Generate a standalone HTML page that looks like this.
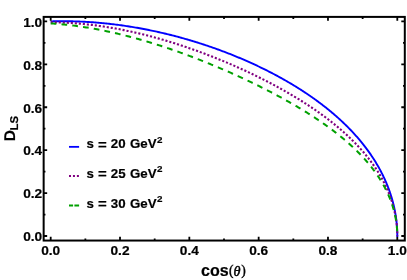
<!DOCTYPE html><html><head><meta charset="utf-8"><style>html,body{margin:0;padding:0;background:#fff}svg{display:block}text{font-family:"Liberation Sans",sans-serif;font-weight:bold;fill:#000;stroke:#000;stroke-width:0.2px;stroke-linejoin:round}.s{font-family:"Liberation Serif",serif;font-weight:normal;stroke-width:0.4px}.th{font-style:italic;stroke-width:0.5px}</style></head><body>
<svg width="407" height="280" viewBox="0 0 407 280">
<rect width="407" height="280" fill="#fff"/>
<g fill="none" stroke-linejoin="round"><path d="M50.70 21.40 L52.06 21.36 L53.43 21.32 L54.79 21.29 L56.16 21.27 L57.52 21.25 L58.89 21.23 L60.25 21.22 L61.61 21.21 L62.98 21.21 L64.34 21.21 L65.70 21.21 L67.07 21.23 L68.43 21.24 L69.79 21.26 L71.16 21.29 L72.52 21.32 L73.88 21.35 L75.24 21.39 L76.60 21.43 L77.96 21.48 L79.32 21.53 L80.68 21.59 L82.04 21.65 L83.40 21.71 L84.76 21.78 L86.12 21.86 L87.47 21.94 L88.83 22.02 L90.18 22.11 L91.54 22.20 L92.89 22.30 L94.25 22.40 L95.60 22.50 L96.95 22.61 L98.31 22.72 L99.66 22.84 L101.01 22.96 L102.36 23.09 L103.71 23.22 L105.05 23.36 L106.40 23.49 L107.75 23.64 L109.09 23.78 L110.44 23.94 L111.78 24.09 L113.12 24.25 L114.47 24.41 L115.81 24.58 L117.15 24.75 L118.49 24.93 L119.82 25.11 L121.16 25.29 L122.50 25.48 L123.83 25.67 L125.16 25.87 L126.49 26.07 L127.83 26.27 L129.16 26.48 L130.48 26.69 L131.81 26.90 L133.14 27.12 L134.46 27.35 L135.79 27.57 L137.11 27.80 L138.43 28.04 L139.75 28.27 L141.07 28.51 L142.38 28.76 L143.70 29.01 L145.01 29.26 L146.32 29.52 L147.63 29.78 L148.94 30.04 L150.25 30.31 L151.56 30.58 L152.86 30.85 L154.17 31.13 L155.47 31.41 L156.77 31.69 L158.06 31.98 L159.36 32.27 L160.66 32.57 L161.95 32.86 L163.24 33.17 L164.53 33.47 L165.82 33.78 L167.10 34.09 L168.39 34.40 L169.67 34.72 L170.95 35.04 L172.23 35.37 L173.51 35.70 L174.78 36.03 L176.06 36.36 L177.33 36.70 L178.60 37.04 L179.86 37.38 L181.13 37.73 L182.39 38.08 L183.65 38.43 L184.91 38.79 L186.17 39.15 L187.42 39.51 L188.68 39.88 L189.93 40.25 L191.18 40.62 L192.42 40.99 L193.67 41.37 L194.91 41.75 L196.15 42.13 L197.39 42.52 L198.62 42.91 L199.85 43.30 L201.08 43.69 L202.31 44.09 L203.54 44.49 L204.76 44.89 L205.98 45.30 L207.20 45.71 L208.42 46.12 L209.63 46.54 L210.84 46.95 L212.05 47.37 L213.26 47.79 L214.46 48.22 L215.66 48.65 L216.86 49.08 L218.06 49.51 L219.25 49.95 L220.44 50.39 L221.63 50.83 L222.82 51.27 L224.00 51.72 L225.18 52.17 L226.36 52.62 L227.53 53.07 L228.71 53.53 L229.87 53.99 L231.04 54.45 L232.21 54.91 L233.37 55.38 L234.52 55.85 L235.68 56.32 L236.83 56.79 L237.98 57.27 L239.13 57.75 L240.27 58.23 L241.41 58.71 L242.55 59.20 L243.69 59.68 L244.82 60.17 L245.95 60.67 L247.07 61.16 L248.20 61.66 L249.32 62.16 L250.43 62.66 L251.55 63.17 L252.66 63.67 L253.76 64.18 L254.87 64.69 L255.97 65.21 L257.07 65.72 L258.16 66.24 L259.25 66.76 L260.34 67.28 L261.43 67.81 L262.51 68.33 L263.59 68.86 L264.66 69.40 L265.73 69.93 L266.80 70.46 L267.87 71.00 L268.93 71.54 L269.99 72.08 L271.04 72.63 L272.09 73.17 L273.14 73.72 L274.19 74.27 L275.23 74.82 L276.27 75.38 L277.30 75.94 L278.33 76.50 L279.36 77.06 L280.38 77.62 L281.40 78.18 L282.42 78.75 L283.43 79.32 L284.44 79.89 L285.45 80.46 L286.45 81.04 L287.45 81.62 L288.44 82.20 L289.43 82.78 L290.42 83.36 L291.40 83.94 L292.38 84.53 L293.36 85.12 L294.33 85.71 L295.30 86.30 L296.27 86.90 L297.23 87.50 L298.18 88.10 L299.14 88.70 L300.09 89.30 L301.03 89.90 L301.97 90.51 L302.91 91.12 L303.85 91.73 L304.78 92.34 L305.70 92.96 L306.62 93.57 L307.54 94.19 L308.46 94.81 L309.37 95.43 L310.27 96.06 L311.18 96.68 L312.07 97.31 L312.97 97.94 L313.86 98.57 L314.74 99.20 L315.63 99.84 L316.50 100.47 L317.38 101.11 L318.25 101.75 L319.11 102.39 L319.97 103.04 L320.83 103.68 L321.68 104.33 L322.53 104.98 L323.38 105.63 L324.22 106.29 L325.05 106.94 L325.88 107.60 L326.71 108.26 L327.53 108.92 L328.35 109.58 L329.17 110.24 L329.98 110.91 L330.78 111.58 L331.59 112.24 L332.38 112.92 L333.18 113.59 L333.96 114.26 L334.75 114.94 L335.53 115.62 L336.30 116.30 L337.07 116.98 L337.84 117.66 L338.60 118.35 L339.36 119.03 L340.11 119.72 L340.86 120.41 L341.61 121.10 L342.35 121.79 L343.08 122.49 L343.81 123.19 L344.54 123.88 L345.26 124.58 L345.98 125.29 L346.69 125.99 L347.40 126.70 L348.10 127.40 L348.80 128.11 L349.49 128.82 L350.18 129.53 L350.86 130.24 L351.54 130.96 L352.22 131.68 L352.89 132.39 L353.56 133.11 L354.22 133.84 L354.87 134.56 L355.53 135.28 L356.17 136.01 L356.82 136.74 L357.45 137.47 L358.09 138.20 L358.71 138.93 L359.34 139.66 L359.96 140.40 L360.57 141.13 L361.18 141.87 L361.78 142.61 L362.38 143.35 L362.98 144.10 L363.57 144.84 L364.15 145.59 L364.73 146.34 L365.31 147.08 L365.88 147.83 L366.44 148.59 L367.00 149.34 L367.56 150.09 L368.11 150.85 L368.65 151.61 L369.19 152.37 L369.73 153.13 L370.26 153.89 L370.79 154.65 L371.31 155.42 L371.82 156.18 L372.33 156.95 L372.84 157.72 L373.34 158.49 L373.84 159.26 L374.33 160.03 L374.81 160.81 L375.29 161.58 L375.77 162.36 L376.24 163.14 L376.71 163.92 L377.17 164.70 L377.62 165.48 L378.07 166.26 L378.52 167.04 L378.96 167.83 L379.40 168.62 L379.83 169.40 L380.25 170.19 L380.67 170.98 L381.09 171.77 L381.50 172.57 L381.90 173.36 L382.30 174.16 L382.70 174.95 L383.08 175.75 L383.47 176.55 L383.85 177.35 L384.22 178.15 L384.59 178.95 L384.95 179.75 L385.31 180.55 L385.67 181.36 L386.01 182.16 L386.36 182.97 L386.69 183.78 L387.03 184.58 L387.35 185.39 L387.68 186.20 L387.99 187.02 L388.30 187.83 L388.61 188.64 L388.91 189.45 L389.21 190.27 L389.50 191.09 L389.78 191.90 L390.06 192.72 L390.34 193.54 L390.61 194.36 L390.87 195.18 L391.13 196.00 L391.38 196.82 L391.63 197.64 L391.88 198.46 L392.11 199.29 L392.35 200.11 L392.57 200.94 L392.79 201.76 L393.01 202.59 L393.22 203.41 L393.43 204.24 L393.63 205.07 L393.82 205.90 L394.01 206.73 L394.20 207.56 L394.38 208.39 L394.55 209.22 L394.72 210.05 L394.89 210.88 L395.04 211.72 L395.20 212.55 L395.34 213.38 L395.49 214.22 L395.62 215.05 L395.75 215.88 L395.88 216.72 L396.00 217.56 L396.12 218.39 L396.23 219.23 L396.33 220.06 L396.43 220.90 L396.52 221.74 L396.61 222.58 L396.70 223.41 L396.77 224.25 L396.85 225.09 L396.91 225.93 L396.98 226.77 L397.03 227.61 L397.08 228.44 L397.13 229.28 L397.17 230.12 L397.20 230.96 L397.23 231.80 L397.26 232.64 L397.28 233.48 L397.29 234.32 L397.30 235.16 L397.30 236.00 L397.30 237.00" stroke="#0000ff" stroke-width="1.9"/>
<path d="M50.70 22.36 L52.06 22.36 L53.43 22.38 L54.79 22.39 L56.16 22.42 L57.52 22.45 L58.89 22.48 L60.25 22.52 L61.61 22.57 L62.98 22.62 L64.34 22.67 L65.70 22.74 L67.07 22.80 L68.43 22.88 L69.79 22.95 L71.16 23.04 L72.52 23.13 L73.88 23.22 L75.24 23.32 L76.60 23.42 L77.96 23.53 L79.32 23.65 L80.68 23.77 L82.04 23.89 L83.40 24.02 L84.76 24.16 L86.12 24.30 L87.47 24.44 L88.83 24.59 L90.18 24.75 L91.54 24.90 L92.89 25.07 L94.25 25.24 L95.60 25.41 L96.95 25.59 L98.31 25.77 L99.66 25.96 L101.01 26.16 L102.36 26.35 L103.71 26.56 L105.05 26.76 L106.40 26.97 L107.75 27.19 L109.09 27.41 L110.44 27.63 L111.78 27.86 L113.12 28.10 L114.47 28.33 L115.81 28.58 L117.15 28.82 L118.49 29.07 L119.82 29.33 L121.16 29.59 L122.50 29.85 L123.83 30.12 L125.16 30.39 L126.49 30.66 L127.83 30.94 L129.16 31.22 L130.48 31.51 L131.81 31.80 L133.14 32.10 L134.46 32.39 L135.79 32.70 L137.11 33.00 L138.43 33.31 L139.75 33.63 L141.07 33.94 L142.38 34.26 L143.70 34.59 L145.01 34.92 L146.32 35.25 L147.63 35.58 L148.94 35.92 L150.25 36.26 L151.56 36.61 L152.86 36.96 L154.17 37.31 L155.47 37.66 L156.77 38.02 L158.06 38.38 L159.36 38.75 L160.66 39.12 L161.95 39.49 L163.24 39.86 L164.53 40.24 L165.82 40.62 L167.10 41.00 L168.39 41.39 L169.67 41.78 L170.95 42.17 L172.23 42.57 L173.51 42.97 L174.78 43.37 L176.06 43.77 L177.33 44.18 L178.60 44.59 L179.86 45.00 L181.13 45.41 L182.39 45.83 L183.65 46.25 L184.91 46.67 L186.17 47.10 L187.42 47.52 L188.68 47.95 L189.93 48.39 L191.18 48.82 L192.42 49.26 L193.67 49.70 L194.91 50.14 L196.15 50.58 L197.39 51.03 L198.62 51.48 L199.85 51.93 L201.08 52.38 L202.31 52.84 L203.54 53.30 L204.76 53.76 L205.98 54.22 L207.20 54.68 L208.42 55.15 L209.63 55.62 L210.84 56.09 L212.05 56.56 L213.26 57.04 L214.46 57.51 L215.66 57.99 L216.86 58.47 L218.06 58.96 L219.25 59.44 L220.44 59.93 L221.63 60.41 L222.82 60.90 L224.00 61.40 L225.18 61.89 L226.36 62.38 L227.53 62.88 L228.71 63.38 L229.87 63.88 L231.04 64.38 L232.21 64.89 L233.37 65.39 L234.52 65.90 L235.68 66.41 L236.83 66.92 L237.98 67.43 L239.13 67.94 L240.27 68.46 L241.41 68.98 L242.55 69.50 L243.69 70.01 L244.82 70.54 L245.95 71.06 L247.07 71.58 L248.20 72.11 L249.32 72.64 L250.43 73.17 L251.55 73.70 L252.66 74.23 L253.76 74.76 L254.87 75.29 L255.97 75.83 L257.07 76.37 L258.16 76.91 L259.25 77.45 L260.34 77.99 L261.43 78.53 L262.51 79.07 L263.59 79.62 L264.66 80.17 L265.73 80.71 L266.80 81.26 L267.87 81.81 L268.93 82.36 L269.99 82.92 L271.04 83.47 L272.09 84.03 L273.14 84.58 L274.19 85.14 L275.23 85.70 L276.27 86.26 L277.30 86.82 L278.33 87.39 L279.36 87.95 L280.38 88.52 L281.40 89.08 L282.42 89.65 L283.43 90.22 L284.44 90.79 L285.45 91.36 L286.45 91.93 L287.45 92.51 L288.44 93.08 L289.43 93.66 L290.42 94.23 L291.40 94.81 L292.38 95.39 L293.36 95.97 L294.33 96.55 L295.30 97.14 L296.27 97.72 L297.23 98.31 L298.18 98.89 L299.14 99.48 L300.09 100.07 L301.03 100.66 L301.97 101.25 L302.91 101.84 L303.85 102.43 L304.78 103.03 L305.70 103.62 L306.62 104.22 L307.54 104.82 L308.46 105.42 L309.37 106.02 L310.27 106.62 L311.18 107.22 L312.07 107.82 L312.97 108.43 L313.86 109.04 L314.74 109.64 L315.63 110.25 L316.50 110.86 L317.38 111.47 L318.25 112.08 L319.11 112.69 L319.97 113.31 L320.83 113.92 L321.68 114.54 L322.53 115.16 L323.38 115.78 L324.22 116.39 L325.05 117.02 L325.88 117.64 L326.71 118.26 L327.53 118.89 L328.35 119.51 L329.17 120.14 L329.98 120.77 L330.78 121.39 L331.59 122.02 L332.38 122.66 L333.18 123.29 L333.96 123.92 L334.75 124.56 L335.53 125.19 L336.30 125.83 L337.07 126.47 L337.84 127.11 L338.60 127.75 L339.36 128.39 L340.11 129.03 L340.86 129.68 L341.61 130.32 L342.35 130.97 L343.08 131.62 L343.81 132.27 L344.54 132.92 L345.26 133.57 L345.98 134.22 L346.69 134.88 L347.40 135.53 L348.10 136.19 L348.80 136.85 L349.49 137.51 L350.18 138.17 L350.86 138.83 L351.54 139.49 L352.22 140.16 L352.89 140.82 L353.56 141.49 L354.22 142.15 L354.87 142.82 L355.53 143.49 L356.17 144.16 L356.82 144.84 L357.45 145.51 L358.09 146.18 L358.71 146.86 L359.34 147.54 L359.96 148.22 L360.57 148.90 L361.18 149.58 L361.78 150.26 L362.38 150.94 L362.98 151.63 L363.57 152.31 L364.15 153.00 L364.73 153.69 L365.31 154.38 L365.88 155.07 L366.44 155.76 L367.00 156.45 L367.56 157.15 L368.11 157.84 L368.65 158.54 L369.19 159.24 L369.73 159.93 L370.26 160.64 L370.79 161.34 L371.31 162.04 L371.82 162.74 L372.33 163.45 L372.84 164.15 L373.34 164.86 L373.84 165.57 L374.33 166.28 L374.81 166.99 L375.29 167.70 L375.77 168.41 L376.24 169.13 L376.71 169.84 L377.17 170.56 L377.62 171.27 L378.07 171.99 L378.52 172.71 L378.96 173.43 L379.40 174.15 L379.83 174.88 L380.25 175.60 L380.67 176.33 L381.09 177.05 L381.50 177.78 L381.90 178.51 L382.30 179.23 L382.70 179.96 L383.08 180.70 L383.47 181.43 L383.85 182.16 L384.22 182.89 L384.59 183.63 L384.95 184.36 L385.31 185.10 L385.67 185.84 L386.01 186.58 L386.36 187.32 L386.69 188.06 L387.03 188.80 L387.35 189.54 L387.68 190.28 L387.99 191.03 L388.30 191.77 L388.61 192.52 L388.91 193.27 L389.21 194.01 L389.50 194.76 L389.78 195.51 L390.06 196.26 L390.34 197.01 L390.61 197.76 L390.87 198.51 L391.13 199.27 L391.38 200.02 L391.63 200.78 L391.88 201.53 L392.11 202.29 L392.35 203.04 L392.57 203.80 L392.79 204.56 L393.01 205.32 L393.22 206.07 L393.43 206.83 L393.63 207.59 L393.82 208.35 L394.01 209.12 L394.20 209.88 L394.38 210.64 L394.55 211.40 L394.72 212.17 L394.89 212.93 L395.04 213.69 L395.20 214.46 L395.34 215.22 L395.49 215.99 L395.62 216.76 L395.75 217.52 L395.88 218.29 L396.00 219.06 L396.12 219.83 L396.23 220.59 L396.33 221.36 L396.43 222.13 L396.52 222.90 L396.61 223.67 L396.70 224.44 L396.77 225.21 L396.85 225.98 L396.91 226.75 L396.98 227.52 L397.03 228.29 L397.08 229.06 L397.13 229.83 L397.17 230.60 L397.20 231.37 L397.23 232.14 L397.26 232.91 L397.28 233.69 L397.29 234.46 L397.30 235.23 L397.30 236.00" stroke="#800080" stroke-width="2.1" stroke-dasharray="2.1 1.92"/>
<path d="M50.70 23.38 L52.06 23.47 L53.43 23.56 L54.79 23.66 L56.16 23.77 L57.52 23.88 L58.89 24.00 L60.25 24.12 L61.61 24.25 L62.98 24.38 L64.34 24.52 L65.70 24.66 L67.07 24.81 L68.43 24.96 L69.79 25.12 L71.16 25.28 L72.52 25.45 L73.88 25.62 L75.24 25.80 L76.60 25.98 L77.96 26.17 L79.32 26.36 L80.68 26.56 L82.04 26.76 L83.40 26.97 L84.76 27.18 L86.12 27.39 L87.47 27.61 L88.83 27.84 L90.18 28.07 L91.54 28.30 L92.89 28.54 L94.25 28.79 L95.60 29.03 L96.95 29.29 L98.31 29.54 L99.66 29.80 L101.01 30.07 L102.36 30.34 L103.71 30.61 L105.05 30.89 L106.40 31.17 L107.75 31.46 L109.09 31.75 L110.44 32.04 L111.78 32.34 L113.12 32.64 L114.47 32.95 L115.81 33.26 L117.15 33.57 L118.49 33.89 L119.82 34.21 L121.16 34.53 L122.50 34.86 L123.83 35.19 L125.16 35.53 L126.49 35.87 L127.83 36.21 L129.16 36.56 L130.48 36.91 L131.81 37.26 L133.14 37.61 L134.46 37.97 L135.79 38.34 L137.11 38.70 L138.43 39.07 L139.75 39.44 L141.07 39.82 L142.38 40.20 L143.70 40.58 L145.01 40.97 L146.32 41.35 L147.63 41.74 L148.94 42.14 L150.25 42.53 L151.56 42.93 L152.86 43.34 L154.17 43.74 L155.47 44.15 L156.77 44.56 L158.06 44.97 L159.36 45.39 L160.66 45.81 L161.95 46.23 L163.24 46.65 L164.53 47.08 L165.82 47.50 L167.10 47.94 L168.39 48.37 L169.67 48.80 L170.95 49.24 L172.23 49.68 L173.51 50.12 L174.78 50.57 L176.06 51.02 L177.33 51.46 L178.60 51.92 L179.86 52.37 L181.13 52.82 L182.39 53.28 L183.65 53.74 L184.91 54.20 L186.17 54.67 L187.42 55.13 L188.68 55.60 L189.93 56.07 L191.18 56.54 L192.42 57.01 L193.67 57.49 L194.91 57.96 L196.15 58.44 L197.39 58.92 L198.62 59.40 L199.85 59.88 L201.08 60.37 L202.31 60.86 L203.54 61.34 L204.76 61.83 L205.98 62.32 L207.20 62.82 L208.42 63.31 L209.63 63.80 L210.84 64.30 L212.05 64.80 L213.26 65.30 L214.46 65.80 L215.66 66.30 L216.86 66.81 L218.06 67.31 L219.25 67.82 L220.44 68.32 L221.63 68.83 L222.82 69.34 L224.00 69.85 L225.18 70.37 L226.36 70.88 L227.53 71.40 L228.71 71.91 L229.87 72.43 L231.04 72.95 L232.21 73.46 L233.37 73.98 L234.52 74.51 L235.68 75.03 L236.83 75.55 L237.98 76.08 L239.13 76.60 L240.27 77.13 L241.41 77.65 L242.55 78.18 L243.69 78.71 L244.82 79.24 L245.95 79.77 L247.07 80.30 L248.20 80.84 L249.32 81.37 L250.43 81.90 L251.55 82.44 L252.66 82.98 L253.76 83.51 L254.87 84.05 L255.97 84.59 L257.07 85.13 L258.16 85.67 L259.25 86.21 L260.34 86.75 L261.43 87.29 L262.51 87.84 L263.59 88.38 L264.66 88.93 L265.73 89.47 L266.80 90.02 L267.87 90.57 L268.93 91.11 L269.99 91.66 L271.04 92.21 L272.09 92.76 L273.14 93.31 L274.19 93.86 L275.23 94.41 L276.27 94.97 L277.30 95.52 L278.33 96.08 L279.36 96.63 L280.38 97.19 L281.40 97.74 L282.42 98.30 L283.43 98.86 L284.44 99.41 L285.45 99.97 L286.45 100.53 L287.45 101.09 L288.44 101.65 L289.43 102.22 L290.42 102.78 L291.40 103.34 L292.38 103.91 L293.36 104.47 L294.33 105.04 L295.30 105.60 L296.27 106.17 L297.23 106.73 L298.18 107.30 L299.14 107.87 L300.09 108.44 L301.03 109.01 L301.97 109.58 L302.91 110.15 L303.85 110.72 L304.78 111.30 L305.70 111.87 L306.62 112.45 L307.54 113.02 L308.46 113.60 L309.37 114.17 L310.27 114.75 L311.18 115.33 L312.07 115.91 L312.97 116.49 L313.86 117.07 L314.74 117.65 L315.63 118.23 L316.50 118.81 L317.38 119.39 L318.25 119.98 L319.11 120.56 L319.97 121.15 L320.83 121.73 L321.68 122.32 L322.53 122.91 L323.38 123.50 L324.22 124.09 L325.05 124.68 L325.88 125.27 L326.71 125.86 L327.53 126.45 L328.35 127.05 L329.17 127.64 L329.98 128.24 L330.78 128.83 L331.59 129.43 L332.38 130.03 L333.18 130.63 L333.96 131.23 L334.75 131.83 L335.53 132.43 L336.30 133.03 L337.07 133.63 L337.84 134.24 L338.60 134.84 L339.36 135.45 L340.11 136.05 L340.86 136.66 L341.61 137.27 L342.35 137.88 L343.08 138.49 L343.81 139.10 L344.54 139.71 L345.26 140.33 L345.98 140.94 L346.69 141.56 L347.40 142.17 L348.10 142.79 L348.80 143.41 L349.49 144.03 L350.18 144.65 L350.86 145.27 L351.54 145.89 L352.22 146.51 L352.89 147.14 L353.56 147.76 L354.22 148.39 L354.87 149.02 L355.53 149.64 L356.17 150.27 L356.82 150.90 L357.45 151.54 L358.09 152.17 L358.71 152.80 L359.34 153.43 L359.96 154.07 L360.57 154.71 L361.18 155.34 L361.78 155.98 L362.38 156.62 L362.98 157.26 L363.57 157.90 L364.15 158.55 L364.73 159.19 L365.31 159.83 L365.88 160.48 L366.44 161.13 L367.00 161.77 L367.56 162.42 L368.11 163.07 L368.65 163.72 L369.19 164.37 L369.73 165.03 L370.26 165.68 L370.79 166.34 L371.31 166.99 L371.82 167.65 L372.33 168.31 L372.84 168.97 L373.34 169.63 L373.84 170.29 L374.33 170.95 L374.81 171.61 L375.29 172.28 L375.77 172.94 L376.24 173.61 L376.71 174.28 L377.17 174.94 L377.62 175.61 L378.07 176.28 L378.52 176.95 L378.96 177.63 L379.40 178.30 L379.83 178.97 L380.25 179.65 L380.67 180.33 L381.09 181.00 L381.50 181.68 L381.90 182.36 L382.30 183.04 L382.70 183.72 L383.08 184.40 L383.47 185.08 L383.85 185.77 L384.22 186.45 L384.59 187.14 L384.95 187.82 L385.31 188.51 L385.67 189.20 L386.01 189.89 L386.36 190.58 L386.69 191.27 L387.03 191.96 L387.35 192.65 L387.68 193.35 L387.99 194.04 L388.30 194.73 L388.61 195.43 L388.91 196.13 L389.21 196.82 L389.50 197.52 L389.78 198.22 L390.06 198.92 L390.34 199.62 L390.61 200.32 L390.87 201.02 L391.13 201.72 L391.38 202.43 L391.63 203.13 L391.88 203.84 L392.11 204.54 L392.35 205.25 L392.57 205.95 L392.79 206.66 L393.01 207.37 L393.22 208.07 L393.43 208.78 L393.63 209.49 L393.82 210.20 L394.01 210.91 L394.20 211.62 L394.38 212.33 L394.55 213.05 L394.72 213.76 L394.89 214.47 L395.04 215.18 L395.20 215.90 L395.34 216.61 L395.49 217.33 L395.62 218.04 L395.75 218.76 L395.88 219.47 L396.00 220.19 L396.12 220.91 L396.23 221.62 L396.33 222.34 L396.43 223.06 L396.52 223.77 L396.61 224.49 L396.70 225.21 L396.77 225.93 L396.85 226.65 L396.91 227.37 L396.98 228.08 L397.03 228.80 L397.08 229.52 L397.13 230.24 L397.17 230.96 L397.20 231.68 L397.23 232.40 L397.26 233.12 L397.28 233.84 L397.29 234.56 L397.30 235.28 L397.30 236.00" stroke="#00a000" stroke-width="2.0" stroke-dasharray="5.7 5.15"/></g>
<path d="M50.70 240.55 v-3.9 M50.70 16.9 v3.9 M43.65 236.00 h3.51 M404.8 236.00 h-3.51 M85.36 240.55 v-2.0 M85.36 16.9 v2.0 M43.65 214.54 h1.80 M404.8 214.54 h-1.80 M120.02 240.55 v-3.9 M120.02 16.9 v3.9 M43.65 193.08 h3.51 M404.8 193.08 h-3.51 M154.68 240.55 v-2.0 M154.68 16.9 v2.0 M43.65 171.62 h1.80 M404.8 171.62 h-1.80 M189.34 240.55 v-3.9 M189.34 16.9 v3.9 M43.65 150.16 h3.51 M404.8 150.16 h-3.51 M224.00 240.55 v-2.0 M224.00 16.9 v2.0 M43.65 128.70 h1.80 M404.8 128.70 h-1.80 M258.66 240.55 v-3.9 M258.66 16.9 v3.9 M43.65 107.24 h3.51 M404.8 107.24 h-3.51 M293.32 240.55 v-2.0 M293.32 16.9 v2.0 M43.65 85.78 h1.80 M404.8 85.78 h-1.80 M327.98 240.55 v-3.9 M327.98 16.9 v3.9 M43.65 64.32 h3.51 M404.8 64.32 h-3.51 M362.64 240.55 v-2.0 M362.64 16.9 v2.0 M43.65 42.86 h1.80 M404.8 42.86 h-1.80 M397.30 240.55 v-3.9 M397.30 16.9 v3.9 M43.65 21.40 h3.51 M404.8 21.40 h-3.51" stroke="#000" stroke-width="1.8" fill="none"/>
<rect x="43.65" y="16.9" width="361.15000000000003" height="223.65" fill="none" stroke="#000" stroke-width="2.0"/>
<g style="filter:grayscale(1)">
<text x="50.70" y="254.7" font-size="13.7" text-anchor="middle">0.0</text>
<text x="42.2" y="241.30" font-size="13.7" text-anchor="end">0.0</text>
<text x="120.02" y="254.7" font-size="13.7" text-anchor="middle">0.2</text>
<text x="42.2" y="198.38" font-size="13.7" text-anchor="end">0.2</text>
<text x="189.34" y="254.7" font-size="13.7" text-anchor="middle">0.4</text>
<text x="42.2" y="155.46" font-size="13.7" text-anchor="end">0.4</text>
<text x="258.66" y="254.7" font-size="13.7" text-anchor="middle">0.6</text>
<text x="42.2" y="112.54" font-size="13.7" text-anchor="end">0.6</text>
<text x="327.98" y="254.7" font-size="13.7" text-anchor="middle">0.8</text>
<text x="42.2" y="69.62" font-size="13.7" text-anchor="end">0.8</text>
<text x="397.30" y="254.7" font-size="13.7" text-anchor="middle">1.0</text>
<text x="42.2" y="26.70" font-size="13.7" text-anchor="end">1.0</text>
<text y="276.0" font-size="16"><tspan x="201.0">cos</tspan><tspan class="s" font-size="13.6"><tspan x="229.05" y="275.3">(</tspan><tspan class="th" x="233.55" y="276.0" font-size="14.2">θ</tspan><tspan x="241.3" y="275.3">)</tspan></tspan></text>
<g transform="translate(15.0 141.3) rotate(-90.1)"><text x="0" y="0" font-size="15.5">D</text><text x="10.9" y="2.95" font-size="11.3">LS</text></g>
<text y="148.2" font-size="13.3"><tspan x="86.5">s</tspan><tspan x="110.8">20</tspan><tspan x="129.9">GeV</tspan><tspan x="157.1" font-size="9.8" dy="-5.4">2</tspan></text>
<text transform="translate(98.0 148.70) scale(1.15 1)" font-size="13">=</text>
<text y="177.8" font-size="13.3"><tspan x="86.5">s</tspan><tspan x="110.8">25</tspan><tspan x="129.9">GeV</tspan><tspan x="157.1" font-size="9.8" dy="-5.4">2</tspan></text>
<text transform="translate(98.0 178.30) scale(1.15 1)" font-size="13">=</text>
<text y="207.5" font-size="13.3"><tspan x="86.5">s</tspan><tspan x="110.8">30</tspan><tspan x="129.9">GeV</tspan><tspan x="157.1" font-size="9.8" dy="-5.4">2</tspan></text>
<text transform="translate(98.0 208.00) scale(1.15 1)" font-size="13">=</text>
</g>
<path d="M69 146.85 H79.1" stroke="#0000ff" stroke-width="1.8" fill="none"/>
<path d="M69 176.1 H79.1" stroke="#800080" stroke-width="2.0" stroke-dasharray="2 1.95" fill="none"/>
<path d="M69 205.5 H79.1" stroke="#00a000" stroke-width="2.0" stroke-dasharray="4.1 1.3 5 9" fill="none"/>
</svg></body></html>
